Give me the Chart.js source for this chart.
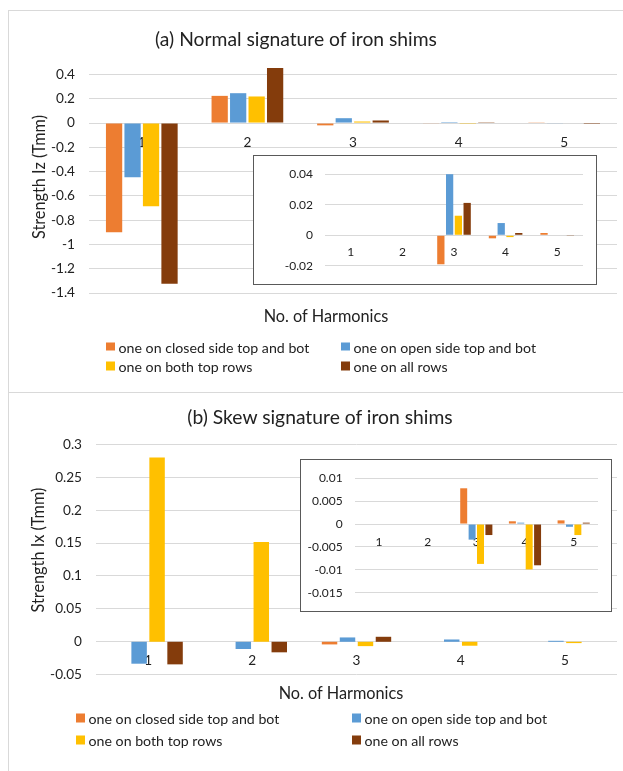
<!DOCTYPE html>
<html>
<head>
<meta charset="utf-8">
<script src="https://cdn.jsdelivr.net/npm/chart.js@4.4.1/dist/chart.umd.min.js"></script>
<style>
  html, body { margin: 0; padding: 0; background: #fff; }
  body { width: 623px; height: 771px; position: relative; overflow: hidden; font-family: Lato, sans-serif; color: #222; }
  canvas, .txt, .frame, .inset-border, .legend-item { position: absolute; }
  .frame { border-left: 1px solid #d9d9d9; border-top: 1px solid #d9d9d9; }
  .inset-border { border: 1px solid #595959; box-sizing: border-box; pointer-events: none; }
  .txt { white-space: nowrap; transform: translate(-50%, -50%); }
  .title { font-size: 19.3px; }
  .xtitle { font-size: 16.3px; }
  .ytitle { font-size: 16.3px; transform: translate(-50%, -50%) rotate(-90deg); }
  .legend-item { font-size: 14.2px; white-space: nowrap; display: flex; align-items: center; transform: translateY(-50%); }
</style>
</head>
<body>
<div class="frame" style="left:8px; top:10px; width:620px; height:390px;"></div>
<div class="frame" style="left:8px; top:392px; width:620px; height:390px;"></div>

<canvas id="normalMain" width="615" height="382" style="left:8px; top:10px;"></canvas>
<canvas id="normalInset" width="344" height="130" style="left:253px; top:155px; background:#fff;"></canvas>
<div class="inset-border" style="left:253px; top:155px; width:344px; height:130px;"></div>

<canvas id="skewMain" width="615" height="378" style="left:8px; top:393px;"></canvas>
<canvas id="skewInset" width="312" height="153" style="left:300px; top:459px; background:#fff;"></canvas>
<div class="inset-border" style="left:300px; top:459px; width:312px; height:153px;"></div>

<div class="txt title" style="left:296px; top:38px;">(a) Normal signature of iron shims</div>
<div class="txt xtitle" style="left:326px; top:315px;">No. of Harmonics</div>
<div class="txt ytitle" style="left:38px; top:177px;">Strength Iz (Tmm)</div>

<div class="txt title" style="left:320px; top:416px;">(b) Skew signature of iron shims</div>
<div class="txt xtitle" style="left:341px; top:692px;">No. of Harmonics</div>
<div class="txt ytitle" style="left:37px; top:550px;">Strength Ix (Tmm)</div>

<div id="legendA"></div>
<div id="legendB"></div>

<script>
const harmonics = ['1', '2', '3', '4', '5'];
const seriesNames = [
  'one on closed side top and bot',
  'one on open side top and bot',
  'one on both top rows',
  'one on all rows'
];
const seriesColors = ['#ED7D31', '#5B9BD5', '#FFC000', '#843C0C'];

// (a) normal signature, main chart
const normalClosed = [-0.9, 0.224, -0.019, -0.005, 0.006];
const normalOpen = [-0.447, 0.246, 0.04, 0.008, -0.005];
const normalBoth = [-0.685, 0.219, 0.0128, -0.0012, 0];
const normalAll = [-1.323, 0.454, 0.0212, 0.0015, -0.0005];

// (a) inset, only harmonics 3-5 plotted
const normalInsetClosed = [null, null, -0.019, -0.002, 0.0015];
const normalInsetOpen = [null, null, 0.04, 0.008, 0];
const normalInsetBoth = [null, null, 0.0128, -0.0012, 0];
const normalInsetAll = [null, null, 0.0212, 0.0015, -0.0005];

// (b) skew signature, main chart
const skewClosed = [0, 0, -0.004, 0, 0];
const skewOpen = [-0.0333, -0.011, 0.0066, 0.0035, 0.0015];
const skewBoth = [0.28, 0.1515, -0.0066, -0.006, -0.002];
const skewAll = [-0.0343, -0.016, 0.0076, 0, 0];

// (b) inset
const skewInsetClosed = [null, null, 0.0078, 0.0006, 0.0008];
const skewInsetOpen = [null, null, -0.0034, 0.0003, -0.0006];
const skewInsetBoth = [null, null, -0.0087, -0.0099, -0.0024];
const skewInsetAll = [null, null, -0.0024, -0.009, 0.0003];

const textColor = '#222';
const gridColor = '#d9d9d9';

// excel style tick text: no trailing zeros, no "-0"
function tickText(v) {
  const r = Math.round(v * 1000) / 1000;
  return String(r === 0 ? 0 : r);
}

function makeDatasets(arrays, catPct, barPct) {
  return arrays.map((data, i) => ({
    label: seriesNames[i],
    data: data,
    backgroundColor: seriesColors[i],
    borderWidth: 0,
    clip: false,
    categoryPercentage: catPct,
    barPercentage: barPct
  }));
}

function drawBarChart(id, arrays, opts) {
  return new Chart(document.getElementById(id), {
    type: 'bar',
    data: { labels: harmonics, datasets: makeDatasets(arrays, opts.catPct, opts.barPct) },
    options: {
      responsive: false,
      animation: false,
      devicePixelRatio: 1,
      layout: { padding: opts.padding },
      plugins: { legend: { display: false }, tooltip: { enabled: false } },
      scales: {
        x: {
          position: { y: 0 },   // category labels sit just under the zero line
          z: 1,
          grid: { display: false, drawTicks: false },
          border: { display: false },
          ticks: { color: textColor, font: { family: 'Lato', size: opts.fontSize }, padding: opts.xPad, maxRotation: 0 }
        },
        y: {
          min: opts.min,
          max: opts.max,
          grid: { color: gridColor, drawTicks: false },
          border: { display: false },
          ticks: {
            stepSize: opts.step,
            color: textColor,
            padding: opts.yPad,
            font: { family: 'Lato', size: opts.fontSize },
            callback: tickText
          },
          afterFit: (scale) => { scale.width = opts.axisWidth; }
        }
      }
    }
  });
}

drawBarChart('normalMain', [normalClosed, normalOpen, normalBoth, normalAll], {
  min: -1.4, max: 0.4, step: 0.2, catPct: 0.7, barPct: 0.88,
  padding: { left: 0, right: 6, top: 64.5, bottom: 99 },
  axisWidth: 81, yPad: 14, xPad: 11, fontSize: 13.6
});

drawBarChart('normalInset', [normalInsetClosed, normalInsetOpen, normalInsetBoth, normalInsetAll], {
  min: -0.02, max: 0.04, step: 0.02, catPct: 0.68, barPct: 0.83,
  padding: { left: 0, right: 14, top: 15, bottom: 14.3 },
  axisWidth: 72, yPad: 12, xPad: 10, fontSize: 12
});

drawBarChart('skewMain', [skewClosed, skewOpen, skewBoth, skewAll], {
  min: -0.05, max: 0.3, step: 0.05, catPct: 0.69, barPct: 0.86,
  padding: { left: 0, right: 6, top: 51.3, bottom: 96.3 },
  axisWidth: 88, yPad: 14, xPad: 11, fontSize: 13.6
});

drawBarChart('skewInset', [skewInsetClosed, skewInsetOpen, skewInsetBoth, skewInsetAll], {
  min: -0.015, max: 0.01, step: 0.005, catPct: 0.69, barPct: 0.83,
  padding: { left: 0, right: 14, top: 15, bottom: 15 },
  axisWidth: 54.6, yPad: 12, xPad: 11, fontSize: 12
});

// two-column legend like the excel one
function buildLegend(holderId, cols, rows, box, gap) {
  const holder = document.getElementById(holderId);
  seriesNames.forEach((name, i) => {
    const item = document.createElement('div');
    item.className = 'legend-item';
    item.style.left = cols[i % 2] + 'px';
    item.style.top = rows[Math.floor(i / 2)] + 'px';
    const sw = document.createElement('span');
    sw.style.display = 'inline-block';
    sw.style.width = box + 'px';
    sw.style.height = box + 'px';
    sw.style.background = seriesColors[i];
    sw.style.marginRight = gap + 'px';
    item.appendChild(sw);
    item.appendChild(document.createTextNode(name));
    holder.appendChild(item);
  });
}

buildLegend('legendA', [106, 341], [346.5, 366], 8.5, 4);
buildLegend('legendB', [76, 352], [718, 740], 8.5, 4);
</script>
</body>
</html>
